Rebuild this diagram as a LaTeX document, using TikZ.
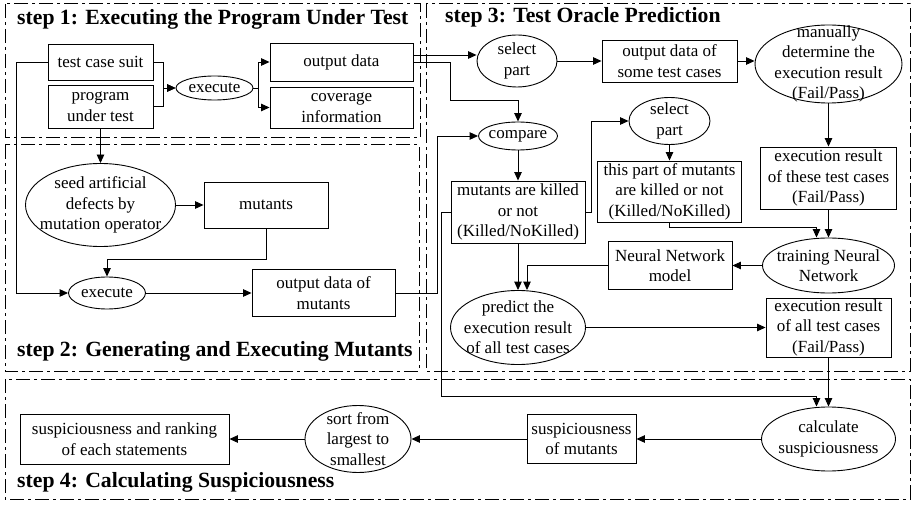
\documentclass[tikz,border=0pt]{standalone}
\usepackage{fontspec}
\setmainfont{Liberation Serif}
\usetikzlibrary{shapes.geometric,arrows.meta}

\tikzset{
  lbl/.style={font=\fontsize{17}{20.5}\selectfont, align=center, inner sep=0pt},
  box/.style={lbl, draw, rectangle, line width=0.9pt},
  oval/.style={draw, ellipse, line width=0.9pt, inner sep=0pt},
  sz/.style 2 args={minimum width=#1, minimum height=#2},
  heading/.style={font=\fontsize{21.7}{24}\selectfont\bfseries, anchor=base west, inner sep=0pt},
  frame/.style={line width=1pt, dash pattern=on 14pt off 4pt on 3pt off 4pt},
  link/.style={line width=0.9pt},
  arr/.style={link, -{Triangle[length=8.5pt,width=7.5pt]}},
}

\begin{document}
\begin{tikzpicture}[x=1pt,y=-1pt]
\useasboundingbox (0,0) rectangle (913,505);

% ---- stage frames ----
\draw[frame] (5,4) rectangle (420,138);
\draw[frame] (5,145) rectangle (419,371);
\draw[frame] (426,4) rectangle (910,371);
\draw[frame] (5,379) rectangle (910,499);

\node[heading] (h1) at (17,25) {step 1: Executing the Program Under Test};
\node[heading] (h2) at (17,356) {step 2: Generating and Executing Mutants};
\node[heading] (h3) at (445,23) {step 3: Test Oracle Prediction};
\node[heading] (h4) at (17,487) {step 4: Calculating Suspiciousness};

% ---- step 1 ----
\node[box, sz={105}{36}] (tcs) at (100.5,62) {test case suit};
\node[box, sz={105}{43}] (put) at (100.5,106.5) {program\\under test};
\node[oval, sz={77}{24}] (ex1) at (214.5,88) {};
\node[lbl] (ex1t) at (ex1) {execute};
\node[box, sz={143}{38}] (od) at (341.5,62) {output data};
\node[box, sz={143}{41}] (cov) at (341.5,107.5) {coverage\\information};

% ---- step 2 ----
\node[oval, sz={150}{83}] (seed) at (100.5,205) {};
\node[lbl] (seedt) at (seed) {seed artificial\\defects by\\mutation operator};
\node[box, sz={124}{46}] (mut) at (266,205) {mutants};
\node[oval, sz={77}{32}] (ex2) at (107,293) {};
\node[lbl] (ex2t) at (ex2) {execute};
\node[box, sz={143}{47}] (odm) at (323.5,293) {output data of\\mutants};

% ---- step 3 ----
\node[oval, sz={80}{52}] (sel1) at (517,61) {};
\node[lbl] (sel1t) at (sel1) {select\\part};
\node[box, sz={135}{42}] (osc) at (669.5,61) {output data of\\some test cases};
\node[oval, sz={147}{78}] (man) at (828.5,64) {};
\node[lbl] (mant) at (man) {manually\\determine the\\execution result\\(Fail/Pass)};
\node[box, sz={136}{62}] (etc) at (828.5,178) {execution result\\of these test cases\\(Fail/Pass)};
\node[oval, sz={79}{28}] (cmp) at (518,136) {};
\node[lbl] (cmpt) at (cmp) {compare};
\node[box, sz={134}{62}] (mk) at (518,212) {mutants are killed\\or not\\(Killed/NoKilled)};
\node[oval, sz={81}{47}] (sel2) at (669.5,121) {};
\node[lbl] (sel2t) at (sel2) {select\\part};
\node[box, sz={144}{61}] (tp) at (669.5,191.5) {this part of mutants\\are killed or not\\(Killed/NoKilled)};
\node[oval, sz={132}{55}] (tnn) at (828.5,265.5) {};
\node[lbl] (tnnt) at (tnn) {training Neural\\Network};
\node[box, sz={124}{48}] (nnm) at (670,265.5) {Neural Network\\model};
\node[oval, sz={135}{74}] (pred) at (518,327.5) {};
\node[lbl] (predt) at (pred) {predict the\\execution result\\of all test cases};
\node[box, sz={125}{59}] (eac) at (828.5,327.5) {execution result\\of all test cases\\(Fail/Pass)};

% ---- step 4 ----
\node[oval, sz={134}{64}] (calc) at (828.5,439) {};
\node[lbl] (calct) at (calc) {calculate\\suspiciousness};
\node[box, sz={109}{49}] (som) at (581.5,439) {suspiciousness\\of mutants};
\node[oval, sz={106}{67}] (sort) at (358,439) {};
\node[lbl] (sortt) at (sort) {sort from\\largest to\\smallest};
\node[box, sz={209}{50}] (sar) at (124.5,439) {suspiciousness and ranking\\of each statements};

% ---- connectors, step 1 ----
\draw[arr] (tcs.east) -- ++(10,0) |- (ex1.west);
\draw[arr] (put.east) -- ++(10,0) |- (ex1.west);
\draw[arr] (ex1.east) -- ++(5,0) |- (od.west);
\draw[arr] (ex1.east) -- ++(5,0) |- (cov.west);

% ---- connectors, step 2 ----
\draw[arr] (tcs.west) -- ++(-31,0) |- (ex2.west);
\draw[arr] (put.south) -- (seed.north);
\draw[arr] (seed.east) -- (mut.west);
\draw[arr] (mut.south) -- ++(0,31) -| (ex2.north);
\draw[arr] (ex2.east) -- (odm.west);
\draw[arr] (odm.east) -- ++(42,0) |- (cmp.west);

% ---- connectors, step 3 ----
\draw[arr] ([yshift=7pt]od.east) -- ([yshift=7pt]od.east -| sel1.west);
\draw[arr] (od.east) -- ++(37,0) -- ++(0,38) -| (cmp.north);
\draw[arr] (sel1.east) -- (osc.west);
\draw[arr] (osc.east) -- (osc.east -| man.west);
\draw[arr] (man.south) -- (etc.north);
\draw[arr] (cmp.south) -- (mk.north);
\draw[arr] (mk.east) -- ++(6,0) |- (sel2.west);
\draw[arr] (sel2.south) -- (tp.north);
\draw[arr] (tp.south) -- ++(0,5) -| ([xshift=-12pt]tnn.north);
\draw[arr] (etc.south) -- (tnn.north);
\draw[arr] (tnn.west) -- (nnm.east);
\draw[arr] (nnm.west) -| ([xshift=9pt]pred.north);
\draw[arr] (mk.south) -- (pred.north);
\draw[arr] (pred.east) -- (eac.west);

% ---- connectors, step 4 ----
\draw[arr] (eac.south) -- (calc.north);
\draw[arr] (mk.west) -- ++(-9,0) -- ++(0,184) -| ([xshift=-12pt]calc.north);
\draw[arr] (calc.west) -- (som.east);
\draw[arr] (som.west) -- (sort.east);
\draw[arr] (sort.west) -- (sar.east);
\end{tikzpicture}
\end{document}
